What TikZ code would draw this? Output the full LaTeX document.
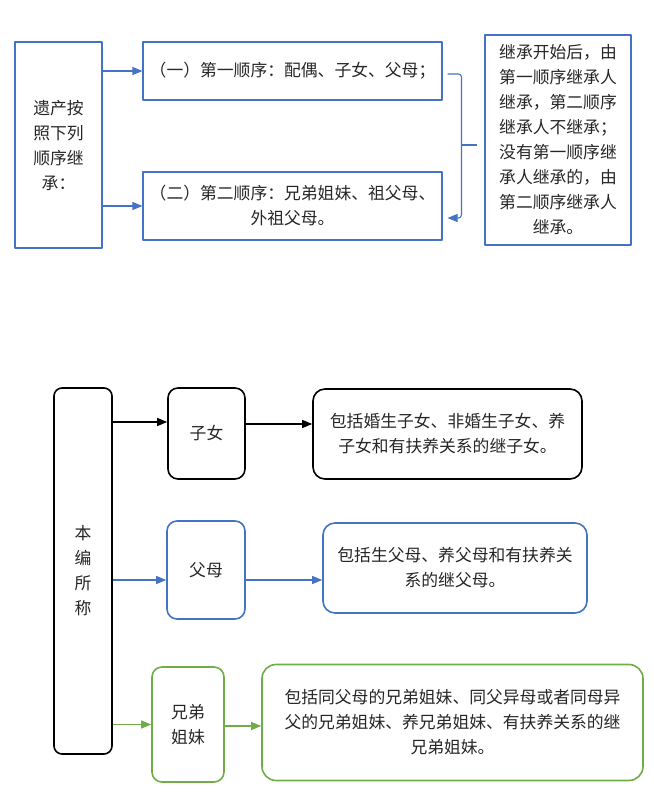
\documentclass[tikz,border=0pt]{standalone}
\usepackage{fontspec}
\setmainfont{Noto Sans CJK SC}
\usepackage[x11names, rgb]{xcolor}
\usepackage{tikz}
\usetikzlibrary{arrows.meta,shapes}

\begin{document}
\begin{tikzpicture}[>={Triangle[length=10bp,width=8bp]},line join=round]
%%
%%
\definecolor{c1}{HTML}{4472C4}%
\definecolor{c2}{HTML}{70AD47}%
\definecolor{c3}{HTML}{262626}%
\tikzset{txt/.style={font=\fontsize{16.8bp}{25bp}\selectfont,text=c3,align=center,inner sep=0pt},
  sq/.style={txt,draw=c1,line width=1.1bp},
  rd/.style={txt,draw,line width=1.6bp,rounded corners=10bp},
  ln/.style={->,line width=1.2bp}}
%
\useasboundingbox (0bp,0bp) rectangle (654bp,799bp);
%
  \node (1) at (58.5bp,654bp) [sq,minimum width=87bp,minimum height=206bp] {遗产按\\照下列\\顺序继\\承：};
  \node (2) at (292.5bp,728bp) [sq,minimum width=299bp,minimum height=58bp] {（一）第一顺序：配偶、子女、父母；};
  \node (3) at (292.5bp,593bp) [sq,minimum width=299bp,minimum height=68bp] {（二）第二顺序：兄弟姐妹、祖父母、\\外祖父母。};
  \node (4) at (558bp,659bp) [sq,minimum width=146bp,minimum height=210bp] {继承开始后，由\\第一顺序继承人\\继承，第二顺序\\继承人不继承；\\没有第一顺序继\\承人继承的，由\\第二顺序继承人\\继承。};

  \path[->,c1,line width=1.1bp] (1.east |- 2.west) edge (2.west);
  \path[->,c1,line width=1.1bp] (1.east |- 3.west) edge (3.west);

  \coordinate (b1) at ([xshift=5bp,yshift=-3bp]2.east);
  \coordinate (b2) at ([xshift=-7bp,yshift=-5bp]4.west);
  \coordinate (b3) at ([xshift=5bp,yshift=-12bp]3.east);
  \draw[->,c1,line width=1.1bp,rounded corners=3bp] (b1) -| ([xshift=-16bp]b2) |- (b3);
  \draw[c1,line width=1.1bp,rounded corners=3bp] ([xshift=-16bp]b2) -- (b2);
%
  \node (5) at (83bp,228bp) [rd,minimum width=58bp,minimum height=366bp,rounded corners=8bp] {本\\编\\所\\称};
  \node (6) at (206.5bp,365.5bp) [rd,minimum width=77bp,minimum height=91bp] {子女};
  \node (7) at (447.5bp,365bp) [rd,minimum width=269bp,minimum height=90bp,rounded corners=12bp] {包括婚生子女、非婚生子女、养\\子女和有扶养关系的继子女。};
  \node (8) at (206bp,229bp) [rd,draw=c1,minimum width=78bp,minimum height=98bp] {父母};
  \node (9) at (455bp,231bp) [rd,draw=c1,minimum width=264bp,minimum height=90bp,rounded corners=12bp] {包括生父母、养父母和有扶养关\\系的继父母。};
  \node (10) at (188bp,74.5bp) [rd,draw=c2,minimum width=72bp,minimum height=115bp] {兄弟\\姐妹};
  \node (11) at (452.5bp,76.5bp) [rd,draw=c2,minimum width=381bp,minimum height=116bp,rounded corners=14bp] {包括同父母的兄弟姐妹、同父异母或者同母异\\父的兄弟姐妹、养兄弟姐妹、有扶养关系的继\\兄弟姐妹。};

  \coordinate (a6) at ([yshift=11.5bp]6.west);
  \coordinate (a7) at ([yshift=10bp]7.west);
  \coordinate (a8) at ([yshift=-10bp]8.west);
  \coordinate (a9) at ([yshift=-12bp]9.west);
  \coordinate (a11) at ([yshift=-3.5bp]11.west);

  \draw[ln] (5.east |- a6) -- (a6);
  \draw[ln] (6.east |- a7) -- (a7);
  \draw[ln,c1] (5.east |- a8) -- (a8);
  \draw[ln,c1] (8.east |- a9) -- (a9);
  \draw[ln,c2] (5.east |- 10.west) -- (10.west);
  \draw[ln,c2] (10.east |- a11) -- (a11);
%
\end{tikzpicture}
\end{document}
